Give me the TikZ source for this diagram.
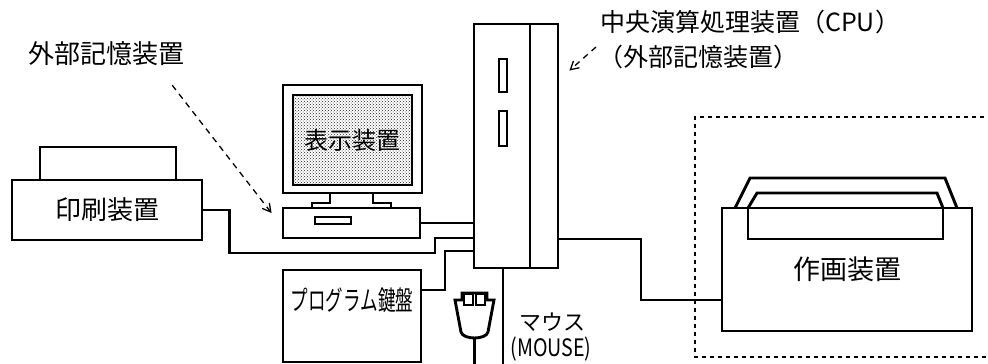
\documentclass[tikz,border=0pt]{standalone}
\usepackage{fontspec}
\setmainfont{Noto Sans CJK JP}
\usetikzlibrary{arrows.meta,patterns,calc}

\begin{document}
\begin{tikzpicture}[x=1pt, y=-1pt,
    wire/.style={line width=2.9pt},
    box/.style={draw, line width=2.9pt, rectangle, inner sep=0pt},
    hint/.style={line width=1.3pt, dash pattern=on 6pt off 5pt, -{Straight Barb[length=8pt,width=9pt]}},
    frame/.style={line width=1.6pt, dash pattern=on 4pt off 4pt},
    jp/.style={inner sep=0pt, font=\fontsize{#1}{#1}\selectfont}]
  \useasboundingbox (0,0) rectangle (988,364);

  % printer
  \node[box, jp=26, minimum width=190pt, minimum height=60pt] (printer) at (107,210) {印刷装置};
  \draw[wire] (printer.north -| 40,0) |- (176,147) -- (printer.north -| 176,0);

  % display and disk unit
  \node[box, minimum width=139pt, minimum height=108pt] (monitor) at (352.5,139) {};
  \node[draw, line width=1.9pt, pattern=crosshatch dots, pattern color=black!85,
        minimum width=119pt, minimum height=90pt, jp=24] (screen) at (352.5,140) {表示装置};
  \node[box, minimum width=137pt, minimum height=30pt] (disk) at (351.5,223) {};
  \draw[line width=1.6pt] (315,217) rectangle (351,224);
  \draw[wire] (330,193) -- (330,203) -- (312,203) -- (312,208);
  \draw[wire] (373,193) -- (373,203) -- (391,203) -- (391,208);

  % keyboard
  \node[box, minimum width=138pt, minimum height=92pt] (kbd) at (352,316) {};
  \node[jp=27] (kbdlbl) at ($(kbd.north)+(0,32)$) {\scalebox{0.65}[1]{プログラム鍵盤}};

  % cpu
  \node[box, minimum width=84pt, minimum height=244pt] (cpu) at (516,146) {};
  \draw[wire] (cpu.north -| 530,0) -- (cpu.south -| 530,0);
  \draw[line width=1.8pt] (499,59) rectangle (507,92);
  \draw[line width=1.8pt] (499,111) rectangle (507,146);

  % plotter
  \draw[frame] (992,117) -- (695,117) -- (695,357) -- (992,357);
  \node[box, jp=27, minimum width=250pt, minimum height=123pt] (plotter) at (847,269.5) {作画装置};
  \draw[wire] (748,208) rectangle (943,239);
  \draw[wire] (748,208) -- (757,193) -- (937,193) -- (943,208);
  \draw[wire] (735,208) -- (750,178) -- (945,178) -- (957,208);

  % mouse
  \draw[wire] (455,300) -- (462,300) -- (462,293) -- (487,293) -- (487,300) -- (494,300)
    -- (488,332) .. controls (486,340) and (463,340) .. (461,332) -- cycle;
  \draw[line width=1.8pt] (464,294) rectangle (473,305);
  \draw[line width=1.8pt] (476,294) rectangle (485,305);
  \coordinate (tail) at (474.5,338);
  \node[jp=22] (mouselbl) at (552,322) {マウス};
  \node[jp=24] (mouseen) at (551,349) {\scalebox{0.82}[1]{(MOUSE)}};

  % cables
  \draw[wire] (disk.east) -- (disk.east -| cpu.west);
  \draw[wire] (printer.east) -- ++(26,0) |- (435,253) |- (cpu.west |- 0,238);
  \draw[wire] (cpu.west |- 0,251) -| (445,290) -- (kbd.east |- 0,290);
  \draw[wire] (cpu.east |- 0,239) -| (641,300) -- (plotter.west |- 0,300);
  \draw[wire] (cpu.south -| 503,0) -- (503,364);
  \draw[wire] (tail) -- (474.5,364);

  % labels
  \node[jp=26] (extlbl) at (106,54) {外部記憶装置};
  \coordinate (diskptr) at ($(disk.west)+(-10,-10)$);
  \draw[hint] ($(extlbl.south east)+(-12,19)$) -- (diskptr);
  \node[jp=25, anchor=west] (cpulbl) at (600,22) {中央演算処理装置（CPU）};
  \node[jp=25, anchor=west] (cpusub) at (598,57) {（外部記憶装置）};
  \coordinate (cpuptr) at ($(cpu.north east)+(10,48)$);
  \draw[hint] ($(cpusub.west)+(-2,-10)$) -- (cpuptr);
\end{tikzpicture}
\end{document}
